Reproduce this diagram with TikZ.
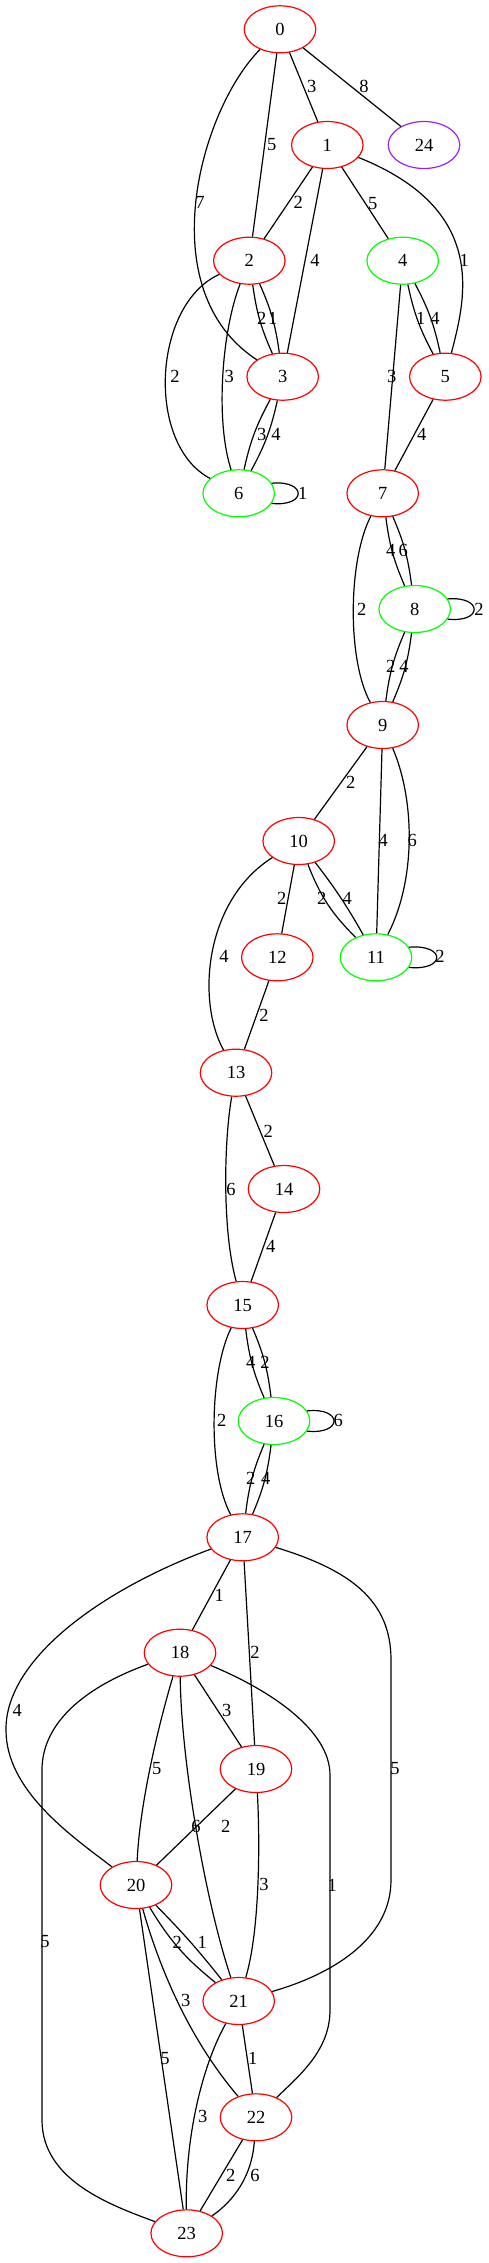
\documentclass[tikz,border=0pt]{standalone}
\usepackage{fontspec}
\setmainfont{Liberation Serif}
\usetikzlibrary{shapes.geometric}
\definecolor{gvred}{RGB}{255,0,0}
\definecolor{gvgreen}{RGB}{0,255,0}
\definecolor{gvpurple}{RGB}{160,32,240}
\begin{document}
\begin{tikzpicture}[x=1pt,y=-1pt,
  vtx/.style={ellipse, draw, line width=1.2pt, minimum width=71.5pt, minimum height=47pt, inner sep=0pt, font=\fontsize{18.5}{20}\selectfont},
  rv/.style={vtx, draw=gvred},
  gv/.style={vtx, draw=gvgreen},
  pv/.style={vtx, draw=gvpurple},
  lnk/.style={line width=1.2pt, black},
  lbl/.style={font=\fontsize{18.5}{20}\selectfont, inner sep=0pt}
]
\useasboundingbox (0,0) rectangle (489,2263);
% nodes
\node[rv] (n0) at (280,29.3) {0};
\node[rv] (n1) at (327.3,145) {1};
\node[pv] (n24) at (424,145) {24};
\node[rv] (n2) at (249.3,260.7) {2};
\node[gv] (n4) at (402.7,260.7) {4};
\node[rv] (n3) at (282.7,376.7) {3};
\node[rv] (n5) at (445.3,376.7) {5};
\node[gv] (n6) at (238.7,493.3) {6};
\node[rv] (n7) at (382.7,493.3) {7};
\node[gv] (n8) at (414.7,609) {8};
\node[rv] (n9) at (382.7,725) {9};
\node[rv] (n10) at (298.7,841) {10};
\node[gv] (n11) at (376,957.3) {11};
\node[rv] (n12) at (277.3,957.3) {12};
\node[rv] (n13) at (236,1072.7) {13};
\node[rv] (n14) at (284,1189) {14};
\node[rv] (n15) at (242.7,1305) {15};
\node[gv] (n16) at (274,1421) {16};
\node[rv] (n17) at (242.7,1537.3) {17};
\node[rv] (n18) at (180,1652.7) {18};
\node[rv] (n19) at (256,1769) {19};
\node[rv] (n20) at (136,1885) {20};
\node[rv] (n21) at (238.7,2001) {21};
\node[rv] (n22) at (256,2117.3) {22};
\node[rv] (n23) at (186.7,2233.3) {23};
% edges
\draw[lnk] (n0) -- (n1) node[lbl] at (311.7,86.7) {3};
\draw[lnk] (n0) -- (n24) node[lbl] at (364,86.7) {8};
\draw[lnk] (n0) -- (n2) node[lbl] at (271.7,145) {5};
\draw[lnk] (n0) .. controls (200,110) and (150,290) .. (n3) node[lbl] at (200,202.7) {7};
\draw[lnk] (n1) -- (n2) node[lbl] at (298.3,202.7) {2};
\draw[lnk] (n1) -- (n3) node[lbl] at (315,260.7) {4};
\draw[lnk] (n1) -- (n4) node[lbl] at (372.7,203.3) {5};
\draw[lnk] (n1) .. controls (490,210) and (465,300) .. (n5) node[lbl] at (464.3,260.7) {1};
\draw[lnk] (n2) to[bend right=8] (n3) node[lbl] at (261.7,318.3) {2};
\draw[lnk] (n2) to[bend left=8] (n3) node[lbl] at (272.7,318.3) {1};
\draw[lnk] (n2) .. controls (152,305) and (146,445) .. (n6) node[lbl] at (175,376.7) {2};
\draw[lnk] (n2) .. controls (222,330) and (215,420) .. (n6) node[lbl] at (229.3,376.7) {3};
\draw[lnk] (n3) to[bend right=8] (n6) node[lbl] at (261.7,434) {3};
\draw[lnk] (n3) to[bend left=8] (n6) node[lbl] at (276,434) {4};
\draw[lnk] (n6.17) .. controls (307,480) and (307,507) .. (n6.-17) node[lbl] at (302.7,493.3) {1};
\draw[lnk] (n4) to[bend right=8] (n5) node[lbl] at (420.7,318.3) {1};
\draw[lnk] (n4) to[bend left=8] (n5) node[lbl] at (435,318.3) {4};
\draw[lnk] (n4) -- (n7) node[lbl] at (391.7,376.7) {3};
\draw[lnk] (n5) -- (n7) node[lbl] at (421.7,434) {4};
\draw[lnk] (n7) to[bend right=8] (n8) node[lbl] at (390.7,550.7) {4};
\draw[lnk] (n7) to[bend left=8] (n8) node[lbl] at (403.3,550.7) {6};
\draw[lnk] (n7) .. controls (348,560) and (347,660) .. (n9) node[lbl] at (361.7,609) {2};
\draw[lnk] (n8.17) .. controls (483,596) and (483,623) .. (n8.-17) node[lbl] at (479,609) {2};
\draw[lnk] (n8) to[bend right=8] (n9) node[lbl] at (390.7,666.7) {2};
\draw[lnk] (n8) to[bend left=8] (n9) node[lbl] at (404,666.7) {4};
\draw[lnk] (n9) -- (n10) node[lbl] at (350.7,782.7) {2};
\draw[lnk] (n9) -- (n11) node[lbl] at (383.3,840.7) {4};
\draw[lnk] (n9) .. controls (415,800) and (416,880) .. (n11) node[lbl] at (412.3,840.7) {6};
\draw[lnk] (n10) to[bend right=12] (n11) node[lbl] at (321.7,898.3) {2};
\draw[lnk] (n10) to[bend left=4] (n11) node[lbl] at (347.3,898.3) {4};
\draw[lnk] (n10) -- (n12) node[lbl] at (281.7,898.3) {2};
\draw[lnk] (n10) .. controls (205,900) and (196,1000) .. (n13) node[lbl] at (224,956.7) {4};
\draw[lnk] (n11.17) .. controls (446,944) and (446,971) .. (n11.-17) node[lbl] at (440,956.7) {2};
\draw[lnk] (n12) -- (n13) node[lbl] at (264,1015) {2};
\draw[lnk] (n13) -- (n14) node[lbl] at (268.3,1131.7) {2};
\draw[lnk] (n13) .. controls (224,1140) and (222,1230) .. (n15) node[lbl] at (231,1189) {6};
\draw[lnk] (n14) -- (n15) node[lbl] at (270.7,1246.7) {4};
\draw[lnk] (n15) to[bend right=8] (n16) node[lbl] at (250.7,1362.3) {4};
\draw[lnk] (n15) to[bend left=8] (n16) node[lbl] at (265,1362.3) {2};
\draw[lnk] (n15) .. controls (210,1370) and (207,1470) .. (n17) node[lbl] at (221.7,1420.7) {2};
\draw[lnk] (n16.17) .. controls (343,1407) and (343,1435) .. (n16.-17) node[lbl] at (338.3,1420.7) {6};
\draw[lnk] (n16) to[bend right=8] (n17) node[lbl] at (250.7,1478.3) {2};
\draw[lnk] (n16) to[bend left=8] (n17) node[lbl] at (265.7,1478.3) {4};
\draw[lnk] (n17) -- (n18) node[lbl] at (219.3,1595) {1};
\draw[lnk] (n17) -- (n19) node[lbl] at (255,1652.7) {2};
\draw[lnk] (n17) .. controls (100,1590) and (5,1660) .. (6,1730) .. controls (6,1790) and (70,1835) .. (n20) node[lbl] at (17.3,1710.7) {4};
\draw[lnk] (n17) .. controls (350,1570) and (391,1600) .. (391,1660) -- (391,1880) .. controls (391,1940) and (330,1975) .. (n21) node[lbl] at (395,1768.3) {5};
\draw[lnk] (n18) -- (n19) node[lbl] at (226.7,1710) {3};
\draw[lnk] (n18) .. controls (160,1720) and (140,1800) .. (n20) node[lbl] at (156.7,1769) {5};
\draw[lnk] (n18) .. controls (181,1760) and (205,1900) .. (n21) node[lbl] at (196,1826.7) {6};
\draw[lnk] (n18) .. controls (270,1690) and (330,1730) .. (330,1775) -- (330,2010) .. controls (330,2050) and (300,2075) .. (n22) node[lbl] at (332.3,1885) {1};
\draw[lnk] (n18) .. controls (90,1685) and (42,1720) .. (42,1770) -- (42,2120) .. controls (42,2180) and (110,2205) .. (n23) node[lbl] at (45,1941.7) {5};
\draw[lnk] (n19) -- (n20) node[lbl] at (225.7,1826.7) {2};
\draw[lnk] (n19) .. controls (260,1840) and (260,1930) .. (n21) node[lbl] at (264,1884) {3};
\draw[lnk] (n20) to[bend right=10] (n21) node[lbl] at (177.3,1942.7) {2};
\draw[lnk] (n20) to[bend left=3] (n21) node[lbl] at (202.3,1942.7) {1};
\draw[lnk] (n20) .. controls (160,1970) and (190,2040) .. (n22) node[lbl] at (185.7,2000) {3};
\draw[lnk] (n20) -- (n23) node[lbl] at (165,2058.3) {5};
\draw[lnk] (n21) -- (n22) node[lbl] at (252.7,2058.3) {1};
\draw[lnk] (n21) .. controls (205,2060) and (185,2130) .. (n23) node[lbl] at (202.7,2116) {3};
\draw[lnk] (n22) -- (n23) node[lbl] at (230.7,2175) {2};
\draw[lnk] (n22) .. controls (252,2175) and (235,2200) .. (n23) node[lbl] at (255,2175) {6};
\end{tikzpicture}
\end{document}
